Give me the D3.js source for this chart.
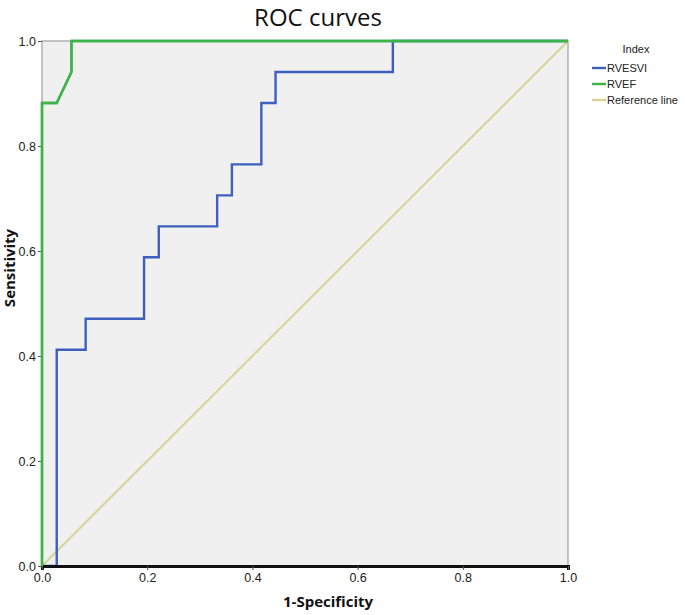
<!DOCTYPE html>
<html>
<head>
<meta charset="utf-8">
<script src="https://cdn.jsdelivr.net/npm/d3@7"></script>
<style>
  body { margin: 0; background: white; }
</style>
</head>
<body>
<svg id="chart" width="685" height="615"></svg>
<script>
// ROC points (1-specificity, sensitivity)
const rvesviX = [0, 0.028, 0.028, 0.083, 0.083, 0.194, 0.194, 0.222, 0.222, 0.333, 0.333, 0.361, 0.361, 0.417, 0.417, 0.444, 0.444, 0.667, 0.667, 1];
const rvesviY = [0, 0, 0.412, 0.412, 0.471, 0.471, 0.588, 0.588, 0.647, 0.647, 0.706, 0.706, 0.765, 0.765, 0.882, 0.882, 0.941, 0.941, 1, 1];
const rvefX = [0, 0, 0.028, 0.056, 0.056, 1];
const rvefY = [0, 0.882, 0.882, 0.941, 1, 1];
const refX = [0, 1];
const refY = [0, 1];
const tickValues = [0, 0.2, 0.4, 0.6, 0.8, 1.0];

const series = [
  { name: "RVESVI", xs: rvesviX, ys: rvesviY, color: "#3f5fbf" },
  { name: "RVEF", xs: rvefX, ys: rvefY, color: "#3cb44b" },
  { name: "Reference line", xs: refX, ys: refY, color: "#d6d29a" }
];

const svg = d3.select("#chart");
const plot = { left: 42, right: 568, top: 41, bottom: 566 };

const x = d3.scaleLinear().domain([0, 1]).range([plot.left, plot.right]);
const y = d3.scaleLinear().domain([0, 1]).range([plot.bottom, plot.top]);

// plot background
svg.append("rect")
  .attr("x", plot.left)
  .attr("y", plot.top)
  .attr("width", plot.right - plot.left)
  .attr("height", plot.bottom - plot.top)
  .attr("fill", "#f0f0f0")
  .attr("stroke", "#a0a0a0")
  .attr("stroke-width", 1.2);

const line = d3.line()
  .x(d => x(d[0]))
  .y(d => y(d[1]));

// reference line first, then curves
const drawOrder = [series[2], series[0], series[1]];
svg.append("g")
  .selectAll("path")
  .data(drawOrder)
  .enter()
  .append("path")
  .attr("d", d => line(d.xs.map((v, i) => [v, d.ys[i]])))
  .attr("fill", "none")
  .attr("stroke", d => d.color)
  .attr("stroke-width", d => d.name === "Reference line" ? 2 : 2.4);

// bottom axis
const xAxis = svg.append("g")
  .attr("transform", "translate(0," + plot.bottom + ")")
  .call(d3.axisBottom(x).tickValues(tickValues).tickFormat(d3.format(".1f")).tickSize(4).tickPadding(3));
xAxis.select(".domain").attr("stroke", "#111").attr("stroke-width", 3);
xAxis.selectAll(".tick line").attr("stroke", "#555");
xAxis.selectAll("text")
  .attr("font-family", "Arial, 'Liberation Sans', sans-serif")
  .attr("font-size", "12.5px")
  .attr("fill", "#222");

// left axis
const yAxis = svg.append("g")
  .attr("transform", "translate(" + plot.left + ",0)")
  .call(d3.axisLeft(y).tickValues(tickValues).tickFormat(d3.format(".1f")).tickSize(4).tickPadding(2));
yAxis.select(".domain").remove();
yAxis.selectAll(".tick line").attr("stroke", "#555");
yAxis.selectAll("text")
  .attr("font-family", "Arial, 'Liberation Sans', sans-serif")
  .attr("font-size", "12.5px")
  .attr("fill", "#222");

// redraw green over left edge
svg.append("path")
  .attr("d", line(rvefX.map((v, i) => [v, rvefY[i]])))
  .attr("fill", "none")
  .attr("stroke", "#3cb44b")
  .attr("stroke-width", 2.4);

// title
svg.append("text")
  .attr("x", 318)
  .attr("y", 26)
  .attr("text-anchor", "middle")
  .attr("font-family", "'Open Sans', 'Noto Sans', sans-serif")
  .attr("font-size", "24px")
  .attr("fill", "#111")
  .text("ROC curves");

// axis titles
svg.append("text")
  .attr("x", 328)
  .attr("y", 607)
  .attr("text-anchor", "middle")
  .attr("font-family", "'Open Sans', 'Noto Sans', sans-serif")
  .attr("font-size", "15px")
  .attr("font-weight", "bold")
  .attr("fill", "#111")
  .text("1-Specificity");

svg.append("text")
  .attr("transform", "translate(15,268) rotate(-90)")
  .attr("text-anchor", "middle")
  .attr("font-family", "'Open Sans', 'Noto Sans', sans-serif")
  .attr("font-size", "15px")
  .attr("font-weight", "bold")
  .attr("fill", "#111")
  .text("Sensitivity");

// legend
const legendX = 592;
const legendY = 68;

svg.append("text")
  .attr("x", 636)
  .attr("y", 53)
  .attr("text-anchor", "middle")
  .attr("font-family", "Arial, 'Liberation Sans', sans-serif")
  .attr("font-size", "11px")
  .attr("fill", "#222")
  .text("Index");

const legend = svg.append("g")
  .selectAll("g")
  .data(series)
  .enter()
  .append("g")
  .attr("transform", (d, i) => "translate(" + legendX + "," + (legendY + i * 16) + ")");

legend.append("line")
  .attr("x1", 0)
  .attr("x2", 14)
  .attr("stroke", d => d.color)
  .attr("stroke-width", 2.4);

legend.append("text")
  .attr("x", 15)
  .attr("y", 4)
  .attr("font-family", "Arial, 'Liberation Sans', sans-serif")
  .attr("font-size", "11px")
  .attr("fill", "#222")
  .text(d => d.name);
</script>
</body>
</html>
